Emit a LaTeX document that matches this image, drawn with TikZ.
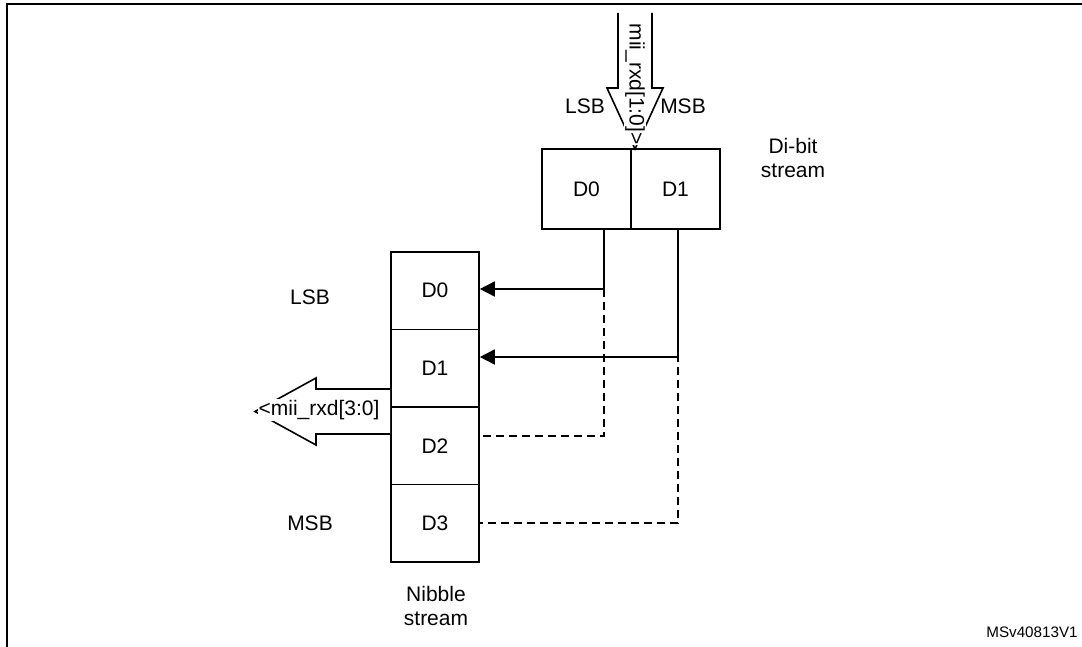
\documentclass[tikz,border=0pt]{standalone}
\usepackage{fontspec}
\setmainfont{Liberation Sans}
\usetikzlibrary{arrows.meta}
\begin{document}
\begin{tikzpicture}[x=0.5pt,y=-0.5pt,
  txt/.style={font=\fontsize{10.5}{12.4}\selectfont, align=center, inner sep=0pt},
  cell/.style={draw,line width=0.8pt,minimum width=44pt,minimum height=38.75pt,inner sep=0pt,txt},
  bitbox/.style={draw,line width=0.8pt,minimum width=44.5pt,minimum height=40pt,inner sep=0pt,txt},
  conn/.style={line width=0.8pt},
  dconn/.style={line width=0.8pt, dash pattern=on 4pt off 2.5pt},
  tipped/.style={-{Triangle[length=7.5pt,width=7.5pt]}},
  hollow/.style={draw,line width=0.8pt,fill=white,line join=miter},
  onarrow/.style={txt,fill=white,inner sep=0.4pt},
]
\useasboundingbox (0,0) rectangle (1082,647);
% frame
\draw[line width=1.25pt] (7,647) -- (7,4) -- (1082,4);

% di-bit stream
\node[bitbox] (b0) at (586.5,189) {D0};
\node[bitbox] (b1) at (675.5,189) {D1};
\node[txt] (dibit) at (793,158) {Di-bit\\stream};

% nibble stream
\node[cell] (n0) at (435,290.75) {D0};
\node[cell] (n1) at (435,368.25) {D1};
\node[cell] (n2) at (435,445.75) {D2};
\node[cell] (n3) at (435,523.25) {D3};
\node[txt] (nib) at (436,606) {Nibble\\stream};
\node[txt] (lsbl) at (310,297) {LSB};
\node[txt] (msbl) at (310,523) {MSB};

% input arrow
\draw[hollow] (618,13) -- (618,88) -- (607,88) -- (635,149) -- (663,88) -- (652,88) -- (652,13);
\node[onarrow,rotate=-90] (inlbl) at (635,84) {mii\_rxd[1:0]>};
\node[txt] (lsbt) at (585,106) {LSB};
\node[txt] (msbt) at (683,106) {MSB};

% output arrow
\draw[hollow] (n1.west |- 0,389) -- (316,389) -- (316,378) -- (255,411.5) -- (316,445) -- (316,434) -- (n1.west |- 0,434);
\node[onarrow] (outlbl) at (319,410) {<mii\_rxd[3:0]};

% connectors
\coordinate (j0) at (604,289);
\coordinate (j1) at (678,357);
\coordinate (k0) at (604,436);
\coordinate (k1) at (678,523);
\coordinate (s1) at (678,315);
\draw[conn,tipped] (b0.south -| j0) |- (n0.east |- j0);
\draw[conn,tipped] (b1.south -| j1) |- (n1.east |- j1);
\draw[dconn] (j0) |- (n2.east |- k0);
\draw[dconn] (s1) |- (n3.east |- k1);

\node[font=\fontsize{7.6}{9}\selectfont, inner sep=0pt] (ms) at (1032,632) {MSv40813V1};
\end{tikzpicture}
\end{document}
